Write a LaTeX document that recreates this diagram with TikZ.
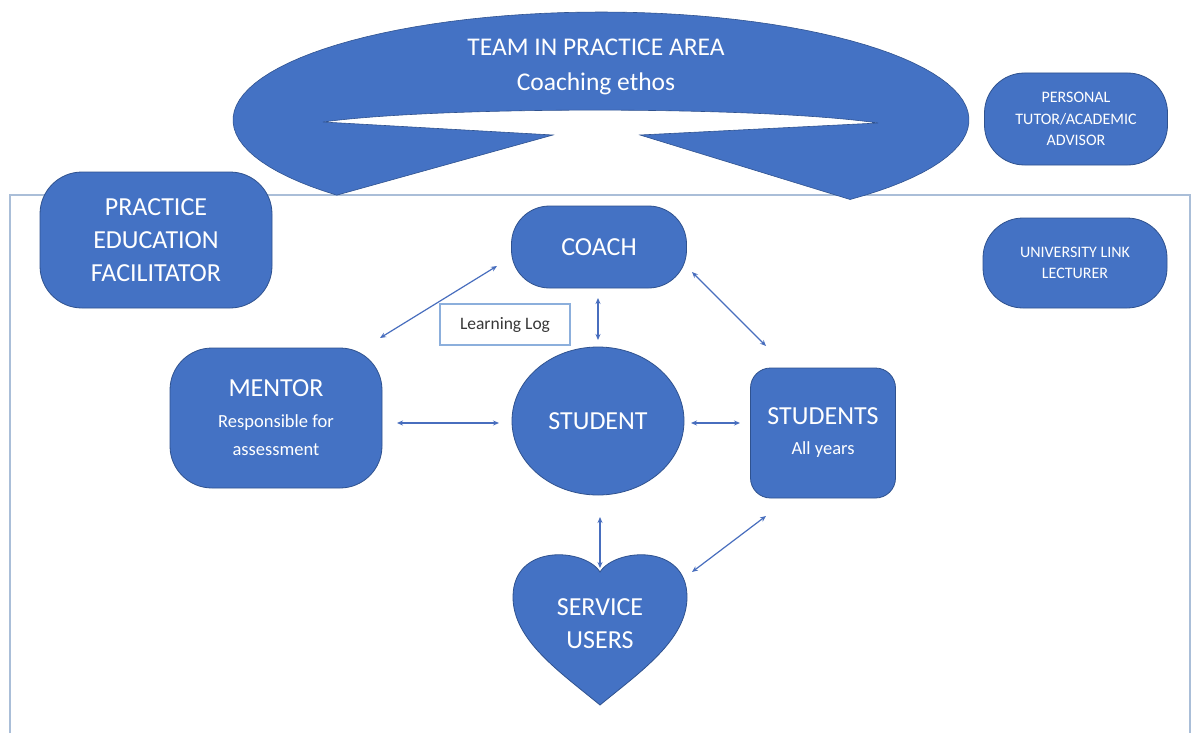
\documentclass[tikz,border=0pt]{standalone}
\usepackage{fontspec}
\setmainfont{Carlito}
\usetikzlibrary{arrows.meta,shapes.geometric}
\definecolor{myblue}{RGB}{68,114,196}
\definecolor{myedge}{RGB}{47,82,143}
\definecolor{myframe}{RGB}{170,190,216}
\definecolor{logedge}{RGB}{140,175,220}
\definecolor{myarrow}{RGB}{72,110,190}
\newcommand\fbig{\fontsize{26}{33}\selectfont}
\newcommand\fmid{\fontsize{18.5}{28}\selectfont}
\newcommand\fsmall{\fontsize{16}{21.5}\selectfont}
\tikzset{
  bluebox/.style={fill=myblue, draw=myedge, line width=0.8pt, text=white, align=center, inner sep=0pt},
  arr/.style={draw=myarrow, line width=1.2pt, {Stealth[length=6pt,width=5pt]}-{Stealth[length=6pt,width=5pt]}},
  frameline/.style={draw=myframe, line width=1.6pt},
}
\begin{document}
\begin{tikzpicture}[x=1pt,y=-1pt]
\fill[white] (0,0) rectangle (1193,733);
\useasboundingbox (0,0) rectangle (1193,733);
% frame
\draw[frameline] (10,733) -- (10,195) -- (1190,195) -- (1190,733);
% top team shape
\fill[myblue, draw=myedge, line width=0.6pt]
  plot[domain=0:271.5, samples=90] ({601+368*cos(224.1-\x)}, {120-108*sin(224.1-\x)})
  -- (640,135) -- (878,123)
  .. controls (760,106) and (440,106) .. (323,122)
  -- (553,135) -- cycle;
\node[text=white, align=center, font=\fontsize{25.5}{35}\selectfont] (team) at (596,67) {TEAM IN PRACTICE AREA\\Coaching ethos};
% boxes
\node[bluebox, rounded corners=42pt, minimum width=232pt, minimum height=136pt, font=\fbig] (pef) at (156,240) {PRACTICE\\EDUCATION\\FACILITATOR};
\node[bluebox, rounded corners=38pt, minimum width=175pt, minimum height=82pt, font=\fbig] (coach) at (599,247) {COACH};
\node[bluebox, rounded corners=40pt, minimum width=183pt, minimum height=92pt, font=\fsmall] (tutor) at (1076,119) {PERSONAL\\TUTOR/ACADEMIC\\ADVISOR};
\node[bluebox, rounded corners=40pt, minimum width=184pt, minimum height=90pt, font=\fsmall] (link) at (1075,263) {UNIVERSITY LINK\\LECTURER};
\node[bluebox, rounded corners=42pt, minimum width=212pt, minimum height=140pt, font=\fmid] (mentor) at (276,418) {{\fbig MENTOR}\\[3pt]Responsible for\\assessment};
\node[bluebox, ellipse, minimum width=172pt, minimum height=148pt, font=\fbig] (student) at (598,421) {STUDENT};
\node[bluebox, rounded corners=20pt, minimum width=145pt, minimum height=130pt, font=\fmid] (students) at (823,433) {{\fbig STUDENTS}\\[2pt]All years};
\node[draw=logedge, line width=1.2pt, fill=white, minimum width=130pt, minimum height=41pt, inner sep=0pt, text={black!78}, font=\fontsize{17.5}{21}\selectfont] (log) at (505,324.5) {Learning Log};
% heart
\fill[myblue, draw=myedge, line width=0.8pt]
  (600,572) .. controls (615,548) and (687,543) .. (687,597)
  .. controls (687,640) and (640,672) .. (600,705)
  .. controls (560,672) and (513,640) .. (513,597)
  .. controls (513,543) and (585,548) .. (600,572) -- cycle;
\node[text=white, align=center, font=\fbig, inner sep=0pt] (su) at (600,624) {SERVICE\\USERS};
% arrow endpoints
\coordinate (m1) at (380,338); \coordinate (c1) at (497,266);
\coordinate (c2) at (598,298); \coordinate (s2) at (598,340);
\coordinate (c3) at (692,272); \coordinate (t3) at (766,346);
\coordinate (m4) at (397,423); \coordinate (s4) at (499,423);
\coordinate (s5) at (691,423); \coordinate (t5) at (740,423);
\coordinate (s6) at (600,517); \coordinate (u6) at (600,568);
\coordinate (t7) at (766,516); \coordinate (u7) at (692,572);
\draw[arr] (m1) -- (c1);
\draw[arr] (c2) -- (s2);
\draw[arr] (c3) -- (t3);
\draw[arr] (m4) -- (s4);
\draw[arr] (s5) -- (t5);
\draw[arr] (s6) -- (u6);
\draw[arr] (t7) -- (u7);
\end{tikzpicture}
\end{document}
